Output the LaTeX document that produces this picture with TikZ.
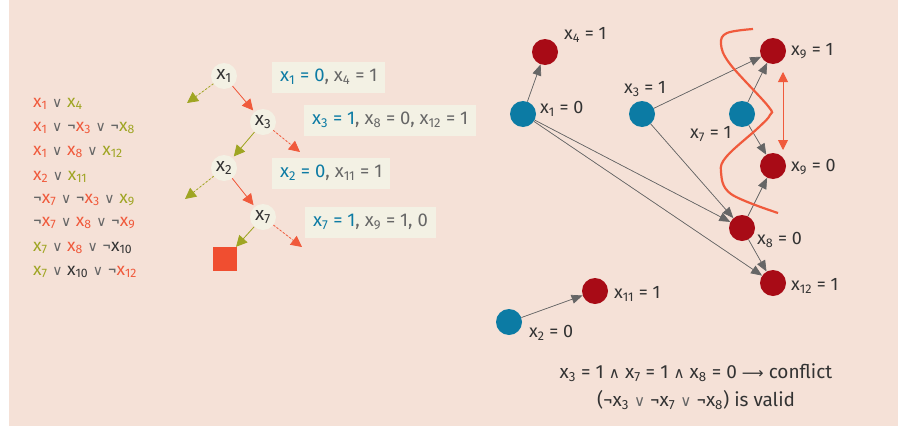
\documentclass[tikz,border=0pt]{standalone}
\usepackage{fontspec}
\setmainfont{Fira Sans}
\newfontfamily\symfont[Scale=0.8]{DejaVu Sans}
\usepackage{tikz}
\usetikzlibrary{positioning,arrows.meta}

\definecolor{bgpink}{HTML}{F5E1D7}
\definecolor{redx}{HTML}{F05A3C}
\definecolor{olive}{HTML}{9FA523}
\definecolor{nodeblue}{HTML}{0C7BA4}
\definecolor{darkred}{HTML}{A80B16}
\definecolor{cream}{HTML}{F3F1E4}
\definecolor{opgray}{HTML}{666666}
\definecolor{txtdark}{HTML}{333333}
\definecolor{sqred}{HTML}{F04E30}

\newcommand{\xs}[1]{x\textsubscript{#1}}
\newcommand{\xr}[1]{{\color{redx}\xs{#1}}}
\newcommand{\xg}[1]{{\color{olive}\xs{#1}}}
\newcommand{\xk}[1]{{\color{txtdark}\xs{#1}}}
\newcommand{\orv}{{\color{opgray}\symfont ∨}}
\newcommand{\andv}{{\symfont ∧}}
\newcommand{\notv}{{\color{opgray}¬}}

\tikzset{
  clause/.style={anchor=west,inner sep=0pt,font=\fontsize{17.5}{19}\selectfont},
  tnode/.style={circle,fill=cream,minimum size=26pt,inner sep=0pt,text=txtdark,
    font=\fontsize{19}{21}\selectfont},
  tred/.style={draw=redx,line width=0.8pt,-{Triangle[length=11pt,width=11pt]},fill=redx},
  tgrn/.style={draw=olive,line width=0.8pt,-{Triangle[length=11pt,width=11pt]},fill=olive},
  dash2/.style={dash pattern=on 2pt off 2pt},
  abox/.style={anchor=west,fill=cream,minimum height=31pt,inner xsep=8pt,text=opgray,
    font=\fontsize{18.5}{20}\selectfont},
  gblue/.style={circle,fill=nodeblue,minimum size=26pt,inner sep=0pt},
  gred/.style={circle,fill=darkred,minimum size=26pt,inner sep=0pt},
  glab/.style={anchor=west,inner sep=0pt,text=txtdark,font=\fontsize{18}{20}\selectfont},
  garrow/.style={draw=opgray,line width=0.7pt,-{Triangle[length=11pt,width=9pt]},fill=opgray},
}

\begin{document}
\begin{tikzpicture}[x=1pt,y=-1pt]
\useasboundingbox (0,0) rectangle (898,426);
\fill[bgpink] (9,0) rectangle (898,426);

% clauses
\node[clause] (c1) at (33,104) {\xr{1} \orv{} \xg{4}};
\node[clause] (c2) at (33,128) {\xr{1} \orv{} \notv\xr{3} \orv{} \notv\xg{8}};
\node[clause] (c3) at (33,152) {\xr{1} \orv{} \xr{8} \orv{} \xg{12}};
\node[clause] (c4) at (33,177) {\xr{2} \orv{} \xg{11}};
\node[clause] (c5) at (33,200) {\notv\xr{7} \orv{} \notv\xr{3} \orv{} \xg{9}};
\node[clause] (c6) at (33,223) {\notv\xr{7} \orv{} \xr{8} \orv{} \notv\xr{9}};
\node[clause] (c7) at (33,248) {\xg{7} \orv{} \xr{8} \orv{} \notv\xk{10}};
\node[clause] (c8) at (33,272) {\xg{7} \orv{} \xk{10} \orv{} \notv\xr{12}};

% search tree
\node[tnode] (t1) at (224,76) {\xs{1}};
\node[tnode] (t3) at (263,122) {\xs{3}};
\node[tnode] (t2) at (224,168) {\xs{2}};
\node[tnode] (t7) at (263,217) {\xs{7}};
\node[fill=sqred,minimum size=24pt,inner sep=0pt] (sq) at (225,259) {};
\coordinate (t1l) at (187,103);
\coordinate (t3r) at (300,152);
\coordinate (t2l) at (185,199);
\coordinate (t7r) at (302,247);

\draw[tgrn,dash2] (t1) -- (t1l);
\draw[tred,shorten >=2pt] (t1) -- (t3);
\draw[tgrn,shorten >=2pt] (t3) -- (t2);
\draw[tred,dash2] (t3) -- (t3r);
\draw[tgrn,dash2] (t2) -- (t2l);
\draw[tred,shorten >=2pt] (t2) -- (t7);
\draw[tgrn] (t7) -- (sq);
\draw[tred,dash2] (t7) -- (t7r);

\node[abox] (b1) at (272,77) {{\color{nodeblue}\xs{1} = 0}, \xs{4} = 1};
\node[abox] (b2) at (304,120) {{\color{nodeblue}\xs{3} = 1}, \xs{8} = 0, \xs{12} = 1};
\node[abox] (b3) at (272,173) {{\color{nodeblue}\xs{2} = 0}, \xs{11} = 1};
\node[abox] (b4) at (305,222) {{\color{nodeblue}\xs{7} = 1}, \xs{9} = 1, 0};

% implication graph
\node[gred]  (g4)  at (545,52) {};
\node[gblue] (g1)  at (523,114) {};
\node[gblue] (g3)  at (642,114) {};
\node[gred]  (g9a) at (773,51) {};
\node[gblue] (g7)  at (742,114) {};
\node[gred]  (g9b) at (773,166) {};
\node[gred]  (g8)  at (742,228) {};
\node[gred]  (g12) at (773,283) {};
\node[gred]  (g11) at (595,291) {};
\node[gblue] (g2)  at (509,322) {};

\node[glab] (l4)  at (564,35)  {\xs{4} = 1};
\node[glab] (l1)  at (540,109) {\xs{1} = 0};
\node[glab] (l3)  at (624,89)  {\xs{3} = 1};
\node[glab] (l9a) at (791,51)  {\xs{9} = 1};
\node[glab] (l7)  at (690,134) {\xs{7} = 1};
\node[glab] (l9b) at (791,167) {\xs{9} = 0};
\node[glab] (l8)  at (757,240) {\xs{8} = 0};
\node[glab] (l12) at (791,286) {\xs{12} = 1};
\node[glab] (l11) at (614,294) {\xs{11} = 1};
\node[glab] (l2)  at (529,333) {\xs{2} = 0};

\draw[garrow] (g1) -- (g4);
\draw[garrow] (g1) -- (g8);
\draw[garrow] (g1) -- (g12);
\draw[garrow] (g3) -- (g9a);
\draw[garrow] (g3) -- (g8);
\draw[garrow] (g7) -- (g9a);
\draw[garrow] (g7) -- (g9b);
\draw[garrow] (g8) -- (g9b);
\draw[garrow] (g8) -- (g12);
\draw[garrow] (g2) -- (g11);

% conflict cut
\draw[redx,line width=2.2pt] plot[smooth,tension=0.6] coordinates {(753,29) (727,33) (721,44) (730,64) (768,106) (770,115) (758,128) (727,156) (721,172) (731,194) (778,213)};
\coordinate (c9t) at (783,72);
\coordinate (c9b) at (783,150);
\draw[redx,line width=0.9pt,{Triangle[length=10pt,width=10pt]}-{Triangle[length=10pt,width=10pt]}] (c9t) -- (c9b);

\node[text=txtdark,font=\fontsize{19}{21}\selectfont] (cf) at (696,373)
  {\xs{3} = 1 \andv{} \xs{7} = 1 \andv{}  \xs{8} = 0 {\symfont ⟶} conflict};
\node[text=txtdark,font=\fontsize{19}{21}\selectfont,below=1pt of cf.south,anchor=north] (cv)
  {(¬\xs{3} \orv{} ¬\xs{7} \orv{} ¬\xs{8}) is valid};
\end{tikzpicture}
\end{document}
